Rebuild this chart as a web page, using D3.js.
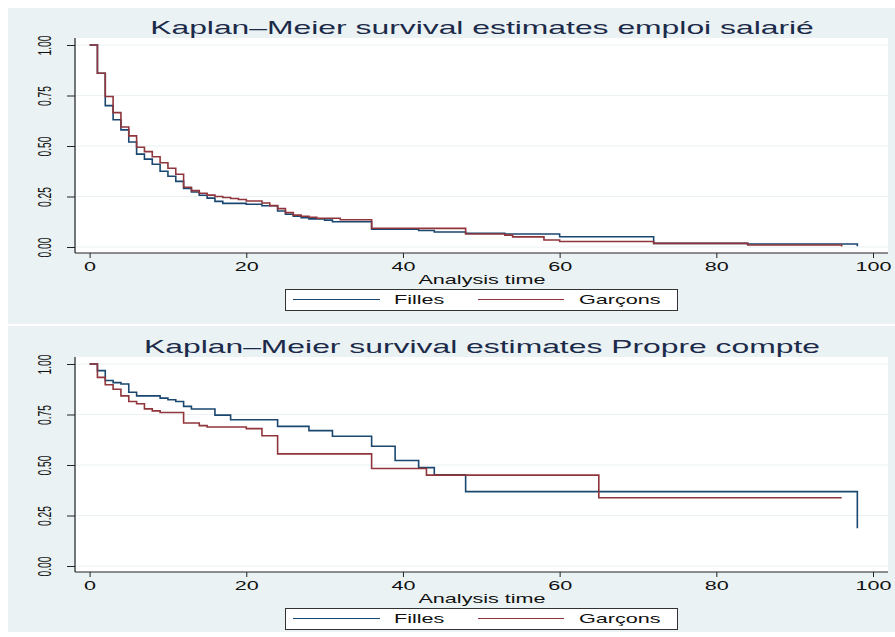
<!DOCTYPE html>
<html>
<head>
<meta charset="utf-8">
<script src="https://cdn.jsdelivr.net/npm/d3@7"></script>
<style>
  body { margin: 0; background: #fff; }
  svg { display: block; font-family: "Liberation Sans", Arial, sans-serif; }
</style>
</head>
<body>
<svg id="chart"></svg>
<script>
// survival steps: [time, S(t)]
const salarieFilles = [
  [0, 1], [1, 0.86], [2, 0.70], [3, 0.63], [4, 0.58], [5, 0.52], [6, 0.46], [7, 0.435],
  [8, 0.41], [9, 0.375], [10, 0.35], [11, 0.325], [12, 0.29], [13, 0.272], [14, 0.256],
  [15, 0.242], [16, 0.226], [17, 0.216], [20, 0.212], [22, 0.204], [24, 0.178], [25, 0.162],
  [26, 0.152], [27, 0.145], [28, 0.139], [30, 0.133], [31, 0.125], [36, 0.088], [42, 0.082],
  [44, 0.074], [48, 0.068], [53, 0.064], [60, 0.051], [72, 0.018], [84, 0.015], [98, 0.004]
];
const salarieGarcons = [
  [0, 1], [1, 0.86], [2, 0.745], [3, 0.665], [4, 0.594], [5, 0.55], [6, 0.494], [7, 0.472],
  [8, 0.447], [9, 0.417], [10, 0.39], [11, 0.36], [12, 0.296], [13, 0.279], [14, 0.266],
  [15, 0.257], [16, 0.25], [17, 0.245], [18, 0.24], [19, 0.235], [20, 0.228], [22, 0.218],
  [23, 0.205], [24, 0.19], [25, 0.17], [26, 0.158], [27, 0.152], [28, 0.147], [29, 0.142],
  [32, 0.135], [36, 0.093], [42, 0.092], [48, 0.064], [53, 0.059], [54, 0.05], [58, 0.035],
  [60, 0.027], [72, 0.018], [84, 0.01], [96, 0.003]
];
const propreFilles = [
  [0, 1], [1, 0.967], [2, 0.918], [3, 0.908], [4, 0.901], [5, 0.86], [6, 0.842], [9, 0.831],
  [10, 0.823], [11, 0.814], [12, 0.79], [13, 0.777], [16, 0.747], [18, 0.724], [24, 0.691],
  [28, 0.67], [31, 0.642], [36, 0.593], [39, 0.522], [42, 0.487], [44, 0.452], [48, 0.368],
  [98, 0.187]
];
const propreGarcons = [
  [0, 1], [1, 0.934], [2, 0.897], [3, 0.875], [4, 0.842], [5, 0.814], [6, 0.803], [7, 0.778],
  [8, 0.768], [9, 0.76], [12, 0.708], [14, 0.695], [15, 0.688], [20, 0.68], [22, 0.645],
  [24, 0.555], [36, 0.483], [43, 0.45], [65, 0.338], [96, 0.338]
];

const titles = ["Kaplan–Meier survival estimates emploi salarié", "Kaplan–Meier survival estimates Propre compte"];
const seriesNames = ["Filles", "Garçons"];
const xTicks = [0, 20, 40, 60, 80, 100];
const yTicks = [0, 0.25, 0.5, 0.75, 1];
const xLabel = "Analysis time";

const colors = ["#1a476f", "#90353b"];
const bg = "#eaf2f3";
const stretch = 1.6; // the picture is wider than it is tall

const svg = d3.select("#chart").attr("width", 895).attr("height", 637);

function createKMPlot(origin, bgTop, bgBottom, title, series) {
  const plot = { left: 76, right: 888, top: origin + 30, bottom: origin + 245 };

  const x = d3.scaleLinear().domain([0, 100]).range([89.6, 873]);
  const y = d3.scaleLinear().domain([0, 1]).range([origin + 239, origin + 37]);

  const g = svg.append("g");

  g.append("rect")
    .attr("x", 8).attr("y", bgTop)
    .attr("width", 887).attr("height", bgBottom - bgTop)
    .attr("fill", bg);

  g.append("rect")
    .attr("x", plot.left).attr("y", plot.top)
    .attr("width", plot.right - plot.left).attr("height", plot.bottom - plot.top)
    .attr("fill", "#fff");

  // grid
  g.append("g")
    .selectAll("line")
    .data(yTicks)
    .join("line")
    .attr("x1", plot.left).attr("x2", plot.right)
    .attr("y1", d => y(d)).attr("y2", d => y(d))
    .attr("stroke", bg).attr("stroke-width", 1.2);

  // title
  g.append("text")
    .attr("transform", `translate(482,${origin + 25.5}) scale(1.77,1)`)
    .attr("text-anchor", "middle")
    .attr("font-size", 18)
    .attr("fill", "#1c2a4a")
    .text(title);

  // curves
  const line = d3.line()
    .x(d => x(d[0]))
    .y(d => y(d[1]))
    .curve(d3.curveStepAfter);

  g.append("g")
    .selectAll("path")
    .data(series)
    .join("path")
    .attr("d", d => line(d))
    .attr("fill", "none")
    .attr("stroke", (d, i) => colors[i])
    .attr("stroke-width", 1.6);

  // x axis
  const xAxis = g.append("g")
    .attr("transform", `translate(0,${plot.bottom})`)
    .call(d3.axisBottom(x).tickValues(xTicks).tickSize(5).tickSizeOuter(0).tickPadding(3));
  xAxis.select(".domain").remove();
  xAxis.selectAll(".tick line").attr("stroke", "#222");
  xAxis.selectAll(".tick text")
    .attr("font-size", 13.5)
    .attr("font-family", null)
    .attr("fill", "#111")
    .attr("transform", `scale(${stretch},1)`);

  // y axis
  const yAxis = g.append("g")
    .attr("transform", `translate(${plot.left - 1},0)`)
    .call(d3.axisLeft(y).tickValues(yTicks).tickFormat(d3.format(".2f")).tickSize(8).tickSizeOuter(0));
  yAxis.select(".domain").remove();
  yAxis.selectAll(".tick line").attr("stroke", "#222");
  yAxis.selectAll(".tick text")
    .attr("x", null)
    .attr("dy", "0.35em")
    .attr("text-anchor", "middle")
    .attr("font-size", 13.5)
    .attr("fill", "#111")
    .attr("transform", "translate(-30,0) rotate(-90) scale(0.76,1.3)");

  // axis lines
  g.append("line")
    .attr("x1", plot.left - 1).attr("x2", plot.left - 1)
    .attr("y1", plot.top).attr("y2", plot.bottom)
    .attr("stroke", "#222").attr("stroke-width", 1.2);
  g.append("line")
    .attr("x1", plot.left - 1).attr("x2", plot.right)
    .attr("y1", plot.bottom).attr("y2", plot.bottom)
    .attr("stroke", "#222").attr("stroke-width", 1.2);

  g.append("text")
    .attr("transform", `translate(${(plot.left + plot.right) / 2},${origin + 275.5}) scale(${stretch},1)`)
    .attr("text-anchor", "middle")
    .attr("font-size", 13.5)
    .attr("fill", "#111")
    .text(xLabel);

  // legend
  const ly = origin + 291.5;
  g.append("rect")
    .attr("x", 285.5).attr("y", origin + 281.5)
    .attr("width", 392).attr("height", 21)
    .attr("fill", "#fff").attr("stroke", "#333").attr("stroke-width", 1);

  const items = [
    { x1: 293, x2: 380, tx: 394 },
    { x1: 478, x2: 564, tx: 579 }
  ];
  const leg = g.append("g")
    .selectAll("g")
    .data(seriesNames)
    .join("g");
  leg.append("line")
    .attr("x1", (d, i) => items[i].x1).attr("x2", (d, i) => items[i].x2)
    .attr("y1", ly).attr("y2", ly)
    .attr("stroke", (d, i) => colors[i]).attr("stroke-width", 1.2);
  leg.append("text")
    .attr("transform", (d, i) => `translate(${items[i].tx},${ly}) scale(${stretch},1)`)
    .attr("dy", "0.36em")
    .attr("font-size", 13.5)
    .attr("fill", "#111")
    .text(d => d);
}

createKMPlot(8, 8, 324, titles[0], [salarieFilles, salarieGarcons]);
createKMPlot(327, 326, 632, titles[1], [propreFilles, propreGarcons]);
</script>
</body>
</html>
